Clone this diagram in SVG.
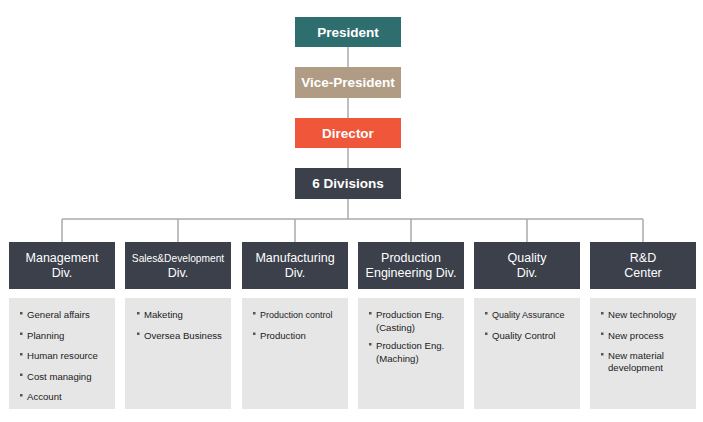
<svg xmlns="http://www.w3.org/2000/svg" width="703" height="422" viewBox="0 0 703 422">
<style>
.top{font-family:"Liberation Sans",Arial,sans-serif;font-size:13.5px;font-weight:bold;fill:#fff;text-anchor:middle}
.div{font-family:"Liberation Sans",Arial,sans-serif;font-size:12.5px;fill:#fff;text-anchor:middle}
.it{font-family:"Liberation Sans",Arial,sans-serif;font-size:9.6px;fill:#222}
.dk{fill:#3b404b}
.gr{fill:#e6e6e6}
.b{fill:#555}
.ln{stroke:#aaa;stroke-width:1.5;fill:none}
</style>
<rect width="703" height="422" fill="#fff"/>
<g id="connectors">
<path class="ln" d="M348 47V168M348 198V219M62 219H643M62 219V242M178 219V242M295 219V242M411 219V242M527 219V242M643 219V242"/>
</g>
<g id="president"><rect x="295" y="17" width="106" height="30" fill="#2e6e6e"/><text class="top" x="348" y="37">President</text></g>
<g id="vice-president"><rect x="295" y="67" width="106" height="31" fill="#b09c85"/><text class="top" x="348" y="87">Vice-President</text></g>
<g id="director"><rect x="295" y="118" width="106" height="30" fill="#f0563a"/><text class="top" x="348" y="138">Director</text></g>
<g id="divisions"><rect x="295" y="168" width="106" height="31" class="dk"/><text class="top" x="348" y="188">6 Divisions</text></g>

<g id="management">
<rect x="9" y="242" width="106" height="47" class="dk"/>
<text class="div" x="62" y="262">Management</text><text class="div" x="62" y="277">Div.</text>
<rect x="9" y="298" width="106" height="111" class="gr"/>
<rect class="b" x="20" y="312" width="2.5" height="2.5"/><text class="it" x="27" y="318">General affairs</text>
<rect class="b" x="20" y="332.5" width="2.5" height="2.5"/><text class="it" x="27" y="338.5">Planning</text>
<rect class="b" x="20" y="353" width="2.5" height="2.5"/><text class="it" x="27" y="359">Human resource</text>
<rect class="b" x="20" y="373.5" width="2.5" height="2.5"/><text class="it" x="27" y="379.5">Cost managing</text>
<rect class="b" x="20" y="394" width="2.5" height="2.5"/><text class="it" x="27" y="400">Account</text>
</g>

<g id="sales">
<rect x="125" y="242" width="106" height="47" class="dk"/>
<text class="div" x="178" y="262" style="font-size:10.2px">Sales&amp;Development</text><text class="div" x="178" y="277">Div.</text>
<rect x="125" y="298" width="106" height="111" class="gr"/>
<rect class="b" x="137" y="312" width="2.5" height="2.5"/><text class="it" x="144" y="318">Maketing</text>
<rect class="b" x="137" y="332.5" width="2.5" height="2.5"/><text class="it" x="144" y="338.5">Oversea Business</text>
</g>

<g id="manufacturing">
<rect x="242" y="242" width="106" height="47" class="dk"/>
<text class="div" x="295" y="262">Manufacturing</text><text class="div" x="295" y="277">Div.</text>
<rect x="242" y="298" width="106" height="111" class="gr"/>
<rect class="b" x="253" y="312" width="2.5" height="2.5"/><text class="it" x="260" y="318" style="font-size:9px">Production control</text>
<rect class="b" x="253" y="332.5" width="2.5" height="2.5"/><text class="it" x="260" y="338.5">Production</text>
</g>

<g id="production-engineering">
<rect x="358" y="242" width="106" height="47" class="dk"/>
<text class="div" x="411" y="262">Production</text><text class="div" x="411" y="277">Engineering Div.</text>
<rect x="358" y="298" width="106" height="111" class="gr"/>
<rect class="b" x="369" y="312" width="2.5" height="2.5"/><text class="it" x="376" y="318">Production Eng.</text><text class="it" x="376" y="331">(Casting)</text>
<rect class="b" x="369" y="343" width="2.5" height="2.5"/><text class="it" x="376" y="349">Production Eng.</text><text class="it" x="376" y="362">(Maching)</text>
</g>

<g id="quality">
<rect x="474" y="242" width="106" height="47" class="dk"/>
<text class="div" x="527" y="262">Quality</text><text class="div" x="527" y="277">Div.</text>
<rect x="474" y="298" width="106" height="111" class="gr"/>
<rect class="b" x="485" y="312" width="2.5" height="2.5"/><text class="it" x="492" y="318" style="font-size:9px">Quality Assurance</text>
<rect class="b" x="485" y="332.5" width="2.5" height="2.5"/><text class="it" x="492" y="338.5">Quality Control</text>
</g>

<g id="rnd">
<rect x="590" y="242" width="106" height="47" class="dk"/>
<text class="div" x="643" y="262">R&amp;D</text><text class="div" x="643" y="277">Center</text>
<rect x="590" y="298" width="106" height="111" class="gr"/>
<rect class="b" x="601" y="312" width="2.5" height="2.5"/><text class="it" x="608" y="318">New technology</text>
<rect class="b" x="601" y="332.5" width="2.5" height="2.5"/><text class="it" x="608" y="338.5">New process</text>
<rect class="b" x="601" y="353" width="2.5" height="2.5"/><text class="it" x="608" y="359">New material</text><text class="it" x="608" y="371">development</text>
</g>
</svg>
